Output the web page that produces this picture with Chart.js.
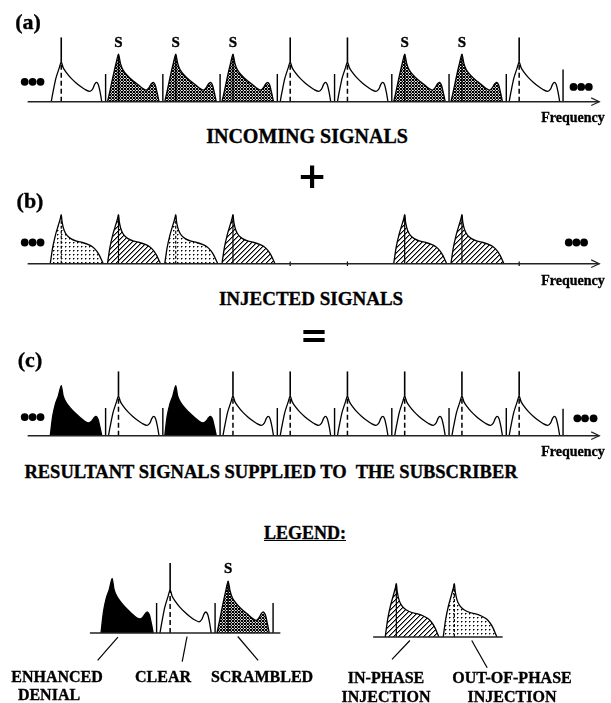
<!DOCTYPE html>
<html><head><meta charset="utf-8">
<script src="https://cdn.jsdelivr.net/npm/chart.js@4.4.1/dist/chart.umd.min.js"></script>
<style>
html,body{margin:0;padding:0;background:#fff;}
#page{position:relative;width:611px;height:703px;overflow:hidden;background:#fff;}
#page canvas{position:absolute;left:0;}
.t{position:absolute;font-family:"Liberation Serif","Times New Roman",serif;font-weight:bold;color:#000;white-space:pre;line-height:1;transform:translate(-50%,-50%);-webkit-text-stroke:0.35px #000;}
</style></head><body><div id="page"></div>
<script>
// ---------------- DATA ----------------
// picture-carrier frequencies (MHz) of the nine channels shown
const carriers = [6, 12, 18, 24, 30, 36, 42, 48, 54];
// panel (a) incoming, (b) injected, (c) resultant channel types
const incomingTypes = ['clear','scrambled','scrambled','scrambled','clear','clear','scrambled','scrambled','clear'];
const injectedTypes = ['out','in','out','in',null,null,'in','in',null];
const resultTypes   = ['denial','clear','denial','clear','clear','clear','clear','clear','clear'];
// channel edge markers (MHz) and their heights
const guardLines = [10.65, 16.65, 22.65, 28.65, 34.65, 40.65, 46.65, 52.65, 58.6];
const guardHeightsA = [0.43, 0.43, 0.43, 0.43, 0.43, 0.43, 0.43, 0.43, 0.5];
const guardHeightsC = [0.43, 0.43, 0.43, 0.43, 0.43, 0.43, 0.43, 0.43, 0.42];
// spectral profiles relative to picture carrier: offset (MHz) and amplitude
const clearX = [-1.05,-0.85,-0.55,-0.2,0,0.2,0.5,1.0,1.5,2.0,2.5,3.0,3.3,3.5,3.7,3.9,4.1,4.25];
const clearY = [0,0.16,0.37,0.53,0.62,0.53,0.46,0.37,0.3,0.24,0.19,0.16,0.2,0.27,0.3,0.26,0.13,0];
const scrambledX = [-1.15,-0.85,-0.55,-0.25,0,0.2,0.45,0.85,1.4,2.0,2.5,2.9,3.2,3.45,3.65,3.85,4.05,4.25];
const scrambledY = [0,0.2,0.41,0.6,0.74,0.6,0.5,0.42,0.34,0.27,0.21,0.18,0.22,0.28,0.3,0.26,0.14,0];
const denialX = [-1.15,-0.9,-0.6,-0.3,0,0.2,0.5,0.9,1.4,2.0,2.5,2.9,3.2,3.45,3.65,3.85,4.05,4.25];
const denialY = [0,0.3,0.5,0.62,0.78,0.62,0.52,0.44,0.36,0.28,0.22,0.2,0.23,0.28,0.3,0.26,0.14,0];
const injectedX = [-1.15,-0.9,-0.6,-0.3,-0.1,0,0.1,0.3,0.6,1.0,1.6,2.2,2.8,3.3,3.7,4.0,4.25,4.4];
const injectedY = [0,0.25,0.45,0.6,0.7,0.76,0.64,0.52,0.44,0.39,0.35,0.33,0.3,0.26,0.2,0.13,0.05,0];
const carrierSpikeTop = 1.0;
// frequency axis extent (MHz) and continuation dots
const axisRange = [2.48, 62.4];
const dotsLeft = [2.17, 3.0, 3.83];
const dotsRightA = [59.7, 60.5, 61.3];
const dotsRightB = [59.2, 60.0, 60.8];
const dotsRightC = [60.1, 60.9, 61.8];
const dotLevelsA = [0.31, 0.23];
const dotLevelsB = [0.33, 0.33];
const dotLevelsC = [0.29, 0.27];
// empty-slot ticks in panel (b)
const emptyTicksB = [30, 36, 54];
// legend
const legendLeftCarriers = [11.6, 17.6, 23.6];
const legendLeftTypes = ['denial','clear','scrambled'];
const legendLeftGuards = [16.2, 22.25, 28.25];
const legendLeftAxis = [9.3, 29.0];
const legendRightCarriers = [41.0, 47.0];
const legendRightTypes = ['in','out'];
const legendRightAxis = [38.6, 52.0];
const legendLeftLeaders = [[12.2,-0.06,10.1,-0.39],[19.35,-0.05,18.85,-0.41],[24.6,-0.05,26.7,-0.39]];
const legendRightLeaders = [[42.4,-0.05,40.55,-0.32],[48.8,-0.05,50.4,-0.44]];

// ---------------- LAYOUT ----------------
const W = 611;
const pxPerMHz = 58/6;
const xMax = W / pxPerMHz;
const pxPerUnit = 70;
const page = document.getElementById('page');

function makeTile(size, painter){
  const c = document.createElement('canvas'); c.width = size; c.height = size;
  const g = c.getContext('2d'); g.fillStyle = '#fff'; g.fillRect(0,0,size,size);
  painter(g, size);
  return document.createElement('canvas').getContext('2d').createPattern(c,'repeat');
}
const crossPat = makeTile(3,(g,s)=>{for(let j=0;j<s;j++)for(let i=0;i<s;i++){g.fillStyle=((i+j)%3===0||(i-j+3)%3===0)?'#000':'#aaa';g.fillRect(i,j,1,1);} g.fillStyle='#fff';g.fillRect(1,0,1,1);});
const hatchPat = makeTile(5,(g,s)=>{g.fillStyle='#000';for(let i=0;i<s;i++){g.fillRect(i,s-1-i,1,1);} g.fillStyle='#888';for(let i=0;i<s;i++){g.fillRect((i+1)%s,s-1-i,1,1);}});
const dotPat = makeTile(4,(g,s)=>{g.fillStyle='#000';g.fillRect(1,1,1,1);g.fillStyle='#888';g.fillRect(2,1,1,1);g.fillRect(1,2,1,1);});

const profiles = {
  clear:{x:clearX,y:clearY,fill:'#fff'},
  scrambled:{x:scrambledX,y:scrambledY,fill:crossPat},
  denial:{x:denialX,y:denialY,fill:'#000'},
  in:{x:injectedX,y:injectedY,fill:hatchPat},
  out:{x:injectedX,y:injectedY,fill:dotPat}
};

function seg(x1,y1,x2,y2,opts){
  return Object.assign({data:[{x:x1,y:y1},{x:x2,y:y2}],borderColor:'#000',borderWidth:1.3,pointRadius:0,fill:false,tension:0},opts||{});
}
function peakOf(type){const p=profiles[type];return p.y[p.x.indexOf(0)];}

function channelDatasets(carrier,type){
  const p = profiles[type];
  const out = [];
  const pk = peakOf(type);
  if(type==='clear'){
    out.push(seg(carrier,pk,carrier,carrierSpikeTop,{borderWidth:1.6}));
    out.push(seg(carrier,0,carrier,pk,{borderWidth:1.5,borderDash:[5,3]}));
  } else if(type==='scrambled'||type==='in'){
    out.push(seg(carrier,0,carrier,pk,{borderWidth:1.2}));
  } else if(type==='out'){
    out.push(seg(carrier,0,carrier,pk,{borderWidth:1.2,borderDash:[3,2]}));
  }
  out.push({data:p.x.map((dx,i)=>({x:carrier+dx,y:p.y[i]})),fill:'origin',backgroundColor:p.fill,borderColor:'#000',borderWidth:1.3,pointRadius:0,tension:0.25});
  return out;
}
function guardDataset(xs,hs){
  const d=[]; xs.forEach((x,i)=>{d.push({x,y:0},{x,y:hs[i]},{x,y:null});});
  return {data:d,borderColor:'#000',borderWidth:1.4,pointRadius:0,fill:false,spanGaps:false,tension:0};
}
function dotsDataset(xl,xr,levels){
  return {data:[...xl.map(x=>({x,y:levels[0]})),...xr.map(x=>({x,y:levels[1]}))],showLine:false,pointRadius:3.9,pointBackgroundColor:'#000',pointBorderWidth:0};
}
function axisDatasets(range,arrow){
  const ds=[seg(range[0],0,range[1],0,{borderWidth:1.4,borderColor:'#222'})];
  if(arrow){const b=range[1]-0.85;ds.push({data:[{x:b,y:0.06},{x:range[1],y:0},{x:b,y:-0.06}],borderColor:'#222',borderWidth:1.2,pointRadius:0,fill:false,tension:0});}
  return ds;
}

function makePanel(baselinePx, yMin, yMax, datasets){
  const cv=document.createElement('canvas');
  const H=Math.round((yMax-yMin)*pxPerUnit);
  cv.width=W; cv.height=H; cv.style.top=(baselinePx-yMax*pxPerUnit)+'px';
  page.appendChild(cv);
  return new Chart(cv,{type:'line',data:{datasets},options:{
    responsive:false,animation:false,devicePixelRatio:1,events:[],
    layout:{padding:0},
    plugins:{legend:{display:false},tooltip:{enabled:false}},
    scales:{x:{type:'linear',min:0,max:xMax,display:false},y:{min:yMin,max:yMax,display:false}}
  }});
}
function text(str,x,y,size,extra){
  const d=document.createElement('div');d.className='t';d.textContent=str;
  d.style.left=x+'px';d.style.top=y+'px';d.style.fontSize=size+'px';
  if(extra)Object.assign(d.style,extra);
  page.appendChild(d);return d;
}
function labelAt(chart,xv,yv,str,size){
  const top=parseFloat(chart.canvas.style.top);
  text(str,chart.scales.x.getPixelForValue(xv),top+chart.scales.y.getPixelForValue(yv),size);
}

// panel (a)
let ds=[...axisDatasets(axisRange,true)];
carriers.forEach((c,i)=>ds.push(...channelDatasets(c,incomingTypes[i])));
ds.push(guardDataset(guardLines,guardHeightsA), dotsDataset(dotsLeft,dotsRightA,dotLevelsA));
const chA=makePanel(104,-0.3,1.1,ds);
carriers.forEach((c,i)=>{if(incomingTypes[i]==='scrambled')labelAt(chA,c,0.93,'S',15);});

// panel (b)
ds=[...axisDatasets(axisRange,true)];
emptyTicksB.forEach(x=>ds.push(seg(x,-0.035,x,0.035,{borderWidth:1.2})));
carriers.forEach((c,i)=>{if(injectedTypes[i])ds.push(...channelDatasets(c,injectedTypes[i]));});
ds.push(dotsDataset(dotsLeft,dotsRightB,dotLevelsB));
makePanel(266,-0.3,1.1,ds);

// panel (c)
ds=[...axisDatasets(axisRange,true)];
carriers.forEach((c,i)=>ds.push(...channelDatasets(c,resultTypes[i])));
ds.push(guardDataset(guardLines,guardHeightsC), dotsDataset(dotsLeft,dotsRightC,dotLevelsC));
makePanel(438,-0.3,1.1,ds);

// legend left
ds=[...axisDatasets(legendLeftAxis,false)];
legendLeftLeaders.forEach(l=>ds.push(seg(l[0],l[1],l[2],l[3],{borderWidth:1.2})));
legendLeftCarriers.forEach((c,i)=>ds.push(...channelDatasets(c,legendLeftTypes[i])));
ds.push(guardDataset(legendLeftGuards,[0.43,0.43,0.43]));
const chL=makePanel(633,-0.5,1.1,ds);
labelAt(chL,legendLeftCarriers[2],0.93,'S',15);

// legend right
ds=[...axisDatasets(legendRightAxis,false)];
legendRightLeaders.forEach(l=>ds.push(seg(l[0],l[1],l[2],l[3],{borderWidth:1.2})));
legendRightCarriers.forEach((c,i)=>ds.push(...channelDatasets(c,legendRightTypes[i])));
makePanel(637,-0.5,1.1,ds);

// texts
text('(a)',28,22,22);
text('INCOMING SIGNALS',307,136,20);
text('Frequency',573,118,14);
text('+',312,176,36,{fontFamily:'"DejaVu Sans",sans-serif',webkitTextStroke:'0px'});
text('(b)',30,201,22);
text('INJECTED SIGNALS',311,298,19);
text('Frequency',573,281,14);
text('=',314,335,34,{fontFamily:'"DejaVu Sans",sans-serif',webkitTextStroke:'0px'});
text('(c)',30,360,22);
text('Frequency',573,452,14);
text('RESULTANT SIGNALS SUPPLIED TO  THE SUBSCRIBER',271,472,18.5);
text('LEGEND:',305,533,18,{textDecoration:'underline'});
text('ENHANCED',57,677,16);
text('DENIAL',49,695,16);
text('CLEAR',163,677,16);
text('SCRAMBLED',262,677,16);
text('IN-PHASE',386,678,16);
text('INJECTION',386,697,16);
text('OUT-OF-PHASE',512,678,16);
text('INJECTION',512,697,16);
</script></body></html>
